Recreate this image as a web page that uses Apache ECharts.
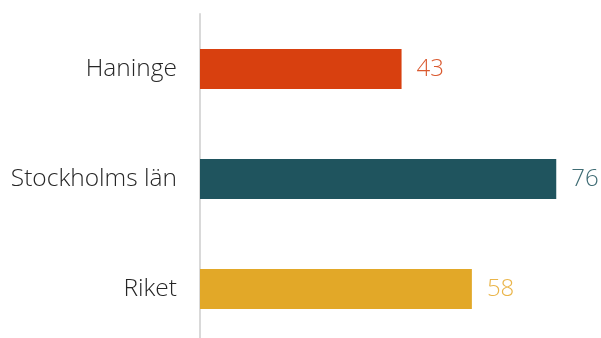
<!DOCTYPE html>
<html>
<head>
<meta charset="utf-8">
<script src="https://cdn.jsdelivr.net/npm/echarts@6/dist/echarts.min.js"></script>
<style>
  html, body { margin: 0; padding: 0; background: #fff; }
  #chart { width: 601px; height: 338px; }
</style>
</head>
<body>
<div id="chart"></div>
<script>
// Regions shown top to bottom
const categories = ['Haninge', 'Stockholms län', 'Riket'];
const values = [43, 76, 58];
const barColors = ['#D8400F', '#1F545E', '#E2A828'];
const labelColors = ['#DA5A30', '#3F6C74', '#EAB54A'];

const chart = echarts.init(document.getElementById('chart'), null, { renderer: 'canvas' });

const fontFamily = '"Open Sans", Lato, sans-serif';

chart.setOption({
  animation: false,
  backgroundColor: '#ffffff',
  grid: {
    left: 200, width: 375, top: 14, height: 330,
    containLabel: false,
    outerBoundsMode: 'none'
  },
  xAxis: {
    type: 'value',
    min: 0,
    max: 80,
    show: false
  },
  yAxis: {
    type: 'category',
    data: categories,
    inverse: true,
    axisLine: { show: true, lineStyle: { color: '#D9D9D9', width: 2 } },
    axisTick: { show: false },
    axisLabel: {
      margin: 23,
      fontSize: 24.5,
      fontWeight: 300,
      color: '#262626',
      fontFamily: fontFamily
    }
  },
  series: [{
    type: 'bar',
    barWidth: 40,
    data: values.map((v, i) => ({
      value: v,
      itemStyle: { color: barColors[i] },
      label: { color: labelColors[i] }
    })),
    label: {
      show: true,
      position: 'right',
      distance: 15,
      fontSize: 24,
      fontWeight: 300,
      fontFamily: fontFamily
    }
  }]
});
</script>
</body>
</html>
